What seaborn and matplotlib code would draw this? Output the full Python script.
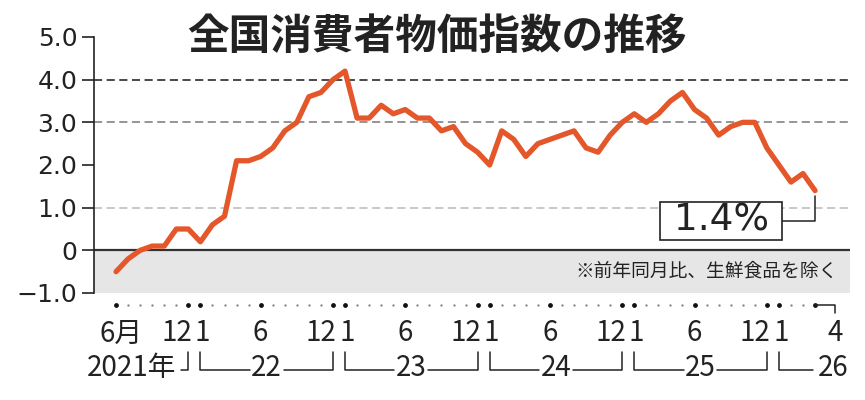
import matplotlib
matplotlib.use("Agg")
import matplotlib.pyplot as plt
import numpy as np
import pandas as pd
import seaborn as sns

# ── data: core CPI (ex fresh food), y/y %, Jun 2021 .. Apr 2026 ──
cpi_2021 = [-0.5, -0.2, 0.0, 0.1, 0.1, 0.5, 0.5]                          # Jun-Dec
cpi_2022 = [0.2, 0.6, 0.8, 2.1, 2.1, 2.2, 2.4, 2.8, 3.0, 3.6, 3.7, 4.0]
cpi_2023 = [4.2, 3.1, 3.1, 3.4, 3.2, 3.3, 3.1, 3.1, 2.8, 2.9, 2.5, 2.3]
cpi_2024 = [2.0, 2.8, 2.6, 2.2, 2.5, 2.6, 2.7, 2.8, 2.4, 2.3, 2.7, 3.0]
cpi_2025 = [3.2, 3.0, 3.2, 3.5, 3.7, 3.3, 3.1, 2.7, 2.9, 3.0, 3.0, 2.4]
cpi_2026 = [2.0, 1.6, 1.8, 1.4]                                           # Jan-Apr

years = [2021] * 7 + [2022] * 12 + [2023] * 12 + [2024] * 12 + [2025] * 12 + [2026] * 4
months = list(range(6, 13)) + list(range(1, 13)) * 4 + list(range(1, 5))
values = cpi_2021 + cpi_2022 + cpi_2023 + cpi_2024 + cpi_2025 + cpi_2026

y_ticks = [-1, 0, 1, 2, 3, 4, 5]
y_tick_labels = ["−1.0", "0", "1.0", "2.0", "3.0", "4.0", "5.0"]
grid_levels = [1, 3, 4]
grid_colors = ["#c4c4c4", "#8c8c8c", "#3a3a3a"]

title = "全国消費者物価指数の推移"
note = "※前年同月比、生鮮食品を除く"
last_label = "1.4%"
year_labels = {2022: "22", 2023: "23", 2024: "24", 2025: "25"}

df = pd.DataFrame({"year": years, "month": months, "cpi": values})
df["idx"] = np.arange(len(df))

LINE = "#e4572a"
DARK = "#222222"
JP = ["Noto Sans CJK JP", "DejaVu Sans"]
TICKFONT = ["Liberation Sans Narrow", "Noto Sans CJK JP", "DejaVu Sans"]

sns.set_style("white")
plt.rcParams["font.family"] = ["DejaVu Sans", "Noto Sans CJK JP"]

fig = plt.figure(figsize=(8.65, 4.0), dpi=100)
ax = fig.add_axes([94 / 865, 107 / 400, 756 / 865, 256 / 400])

# ── background band + reference lines ─────────────────────────────
ax.axhspan(-1, 0, color="#e6e6e6", zorder=0, lw=0)
for lev, col in zip(grid_levels, grid_colors):
    ax.axhline(lev, color=col, lw=1.3, ls=(0, (4.5, 2.5)), zorder=1)
ax.axhline(0, color="#333333", lw=1.6, zorder=2)

# ── main line ─────────────────────────────────────────────────────
sns.lineplot(data=df, x="idx", y="cpi", color=LINE, lw=3.8, ax=ax,
             zorder=4, solid_capstyle="round", solid_joinstyle="round")

ax.set_xlim(-1.83, 60.9)
ax.set_ylim(-1, 5)
ax.set_xlabel("")
ax.set_ylabel("")

# y axis
ax.set_yticks(y_ticks)
ax.set_yticklabels(y_tick_labels, fontsize=18, color=DARK)
ax.tick_params(axis="y", length=9, width=1.2, color=DARK, pad=3, left=True)
ax.set_xticks([])
for s in ["top", "right", "bottom"]:
    ax.spines[s].set_visible(False)
ax.spines["left"].set_color(DARK)
ax.spines["left"].set_linewidth(1.2)

# ── month dots along the bottom ───────────────────────────────────
tr = ax.get_xaxis_transform()
key = df["month"].isin([6, 12, 1]) | (df["idx"] == df["idx"].max())
small = df[~key]
big = df[key]
ax.scatter(small["idx"], np.full(len(small), -0.047), s=3, color="#8a8a8a",
           transform=tr, clip_on=False, lw=0)
ax.scatter(big["idx"], np.full(len(big), -0.047), s=12, color="#111111",
           transform=tr, clip_on=False, lw=0)

# ── month labels ──────────────────────────────────────────────────
y_m = -0.158
fs_t = 20
for _, r in df.iterrows():
    i, m, yr = r["idx"], r["month"], r["year"]
    if i == 0:
        ax.text(i - 1.35, y_m, "6月", ha="left", va="center", fontsize=fs_t,
                family=TICKFONT, color=DARK, transform=tr)
    elif m == 6:
        ax.text(i, y_m, "6", ha="center", va="center", fontsize=fs_t,
                family=TICKFONT, color=DARK, transform=tr)
    elif m == 12:
        ax.text(i + 0.3, y_m, "12", ha="right", va="center", fontsize=fs_t,
                family=TICKFONT, color=DARK, transform=tr)
    elif m == 1:
        ax.text(i + 0.15, y_m, "1", ha="center", va="center", fontsize=fs_t,
                family=TICKFONT, color=DARK, transform=tr)

# last month: small hook + label
last = df["idx"].max()
hook_x = last + 1.65
ax.plot([last, hook_x, hook_x], [-0.047, -0.047, -0.078], color=DARK, lw=1.1,
        transform=tr, clip_on=False)
ax.text(hook_x, y_m, str(df["month"].iloc[-1]), ha="center", va="center",
        fontsize=fs_t, family=TICKFONT, color=DARK, transform=tr)

# ── year row with brackets ────────────────────────────────────────
y_top, y_bot, y_yr = -0.230, -0.301, -0.293
bk = dict(color=DARK, lw=1.1, transform=tr, clip_on=False)

dec21 = df[(df["year"] == 2021) & (df["month"] == 12)]["idx"].iloc[0]
ax.text(1.25, y_yr, "2021年", ha="center", va="center", fontsize=fs_t,
        family=TICKFONT, color=DARK, transform=tr)
ax.plot([dec21 - 0.65, dec21, dec21], [y_bot, y_bot, y_top], **bk)

for yr, lab in year_labels.items():
    jan = df[(df["year"] == yr) & (df["month"] == 1)]["idx"].iloc[0]
    dec = df[(df["year"] == yr) & (df["month"] == 12)]["idx"].iloc[0]
    mid = (jan + dec) / 2
    ax.text(mid, y_yr, lab, ha="center", va="center", fontsize=fs_t,
            family=TICKFONT, color=DARK, transform=tr)
    ax.plot([jan, jan, mid - 1.4], [y_top, y_bot, y_bot], **bk)
    ax.plot([mid + 1.4, dec, dec], [y_bot, y_bot, y_top], **bk)

jan26 = df[(df["year"] == 2026) & (df["month"] == 1)]["idx"].iloc[0]
ax.plot([jan26, jan26, jan26 + 2.8], [y_top, y_bot, y_bot], **bk)
ax.text(hook_x - 0.1, y_yr, "26", ha="center", va="center", fontsize=fs_t,
        family=TICKFONT, color=DARK, transform=tr)

# ── callout for latest value ──────────────────────────────────────
ax.annotate(f" {last_label} ", xy=(last, values[-1]), xytext=(50.2, 0.69),
            textcoords="data", ha="center", va="center", fontsize=27,
            color=DARK, zorder=6,
            bbox=dict(boxstyle="square,pad=0.03", fc="white", ec=DARK, lw=1.2),
            arrowprops=dict(arrowstyle="-", color=DARK, lw=1.1,
                            connectionstyle="angle,angleA=0,angleB=90,rad=0",
                            shrinkA=0, shrinkB=4))

# ── note + title ──────────────────────────────────────────────────
ax.text(0.984, -0.48, note, transform=ax.get_yaxis_transform(), ha="right",
        va="center", fontsize=13.5, family=JP, color=DARK, zorder=6)
fig.text(0.505, 0.9075, title, ha="center", va="center", fontsize=30,
         fontweight="bold", family=JP, color=DARK)

fig.savefig("out.png", dpi=100)
